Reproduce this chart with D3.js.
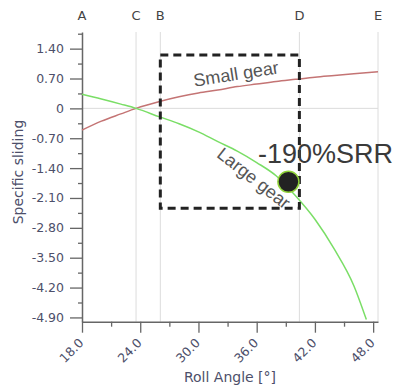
<!DOCTYPE html>
<html>
<head>
<meta charset="utf-8">
<script src="https://cdn.jsdelivr.net/npm/d3@7"></script>
<style>
  body { margin: 0; background: #fff; }
  svg { display: block; font-family: "DejaVu Sans", Verdana, sans-serif; }
</style>
</head>
<body>
<div id="chart"></div>
<script>
// roll angle [deg] vs specific sliding
const smallAngle = [18, 20, 22, 23.57, 26, 28, 30, 32, 34, 36, 38, 40, 42, 44, 46, 48.5];
const smallGear = [-0.51, -0.30, -0.13, 0, 0.16, 0.27, 0.36, 0.43, 0.51, 0.57, 0.63, 0.68, 0.73, 0.77, 0.81, 0.86];

const largeAngle = [18, 20, 22, 23.57, 26, 28, 30, 32, 34, 36, 38, 40, 42, 44, 46, 47.3];
const largeGear = [0.33, 0.22, 0.10, 0, -0.20, -0.36, -0.55, -0.78, -1.00, -1.27, -1.58, -2.05, -2.60, -3.30, -4.15, -4.95];

const xTicks = [18, 24, 30, 36, 42, 48];
const xMinor = [21, 27, 33, 39, 45];
const yTicks = [1.4, 0.7, 0, -0.7, -1.4, -2.1, -2.8, -3.5, -4.2, -4.9];
const yMinor = [1.75, 1.05, 0.35, -0.35, -1.05, -1.75, -2.45, -3.15, -3.85, -4.55];

// contact points along the line of action
const pointNames = ["A", "C", "B", "D", "E"];
const pointAngles = [18, 23.57, 26.07, 40.4, 48.5];

// highlighted region + marker
const boxAngles = [26.07, 40.4];
const boxValues = [1.25, -2.34];
const markerPoint = [39.27, -1.72];
const srrLabel = "-190%SRR";

const width = 399, height = 387;
const axisColor = "#666";
const labelColor = "#4d4f6a";

let svg = d3.select("#chart").append("svg")
    .attr("width", width)
    .attr("height", height);

let x = d3.scaleLinear().domain([18, 48.5]).range([82, 378]);
let y = d3.scaleLinear().domain([-5.0, 1.79]).range([321.7, 32]);

// plain hyphen instead of unicode minus
let fmt2 = d => d === 0 ? "0" : d3.format(".2f")(d).replace("−", "-");

// grid lines
svg.selectAll(".vgrid")
    .data(pointAngles.slice(1))
    .enter()
    .append("line")
    .attr("x1", d => x(d)).attr("x2", d => x(d))
    .attr("y1", y.range()[1]).attr("y2", y.range()[0])
    .attr("stroke", "#dcdcdc")
    .attr("stroke-width", 1);

svg.append("line")
    .attr("x1", x.range()[0]).attr("x2", x.range()[1])
    .attr("y1", y(0)).attr("y2", y(0))
    .attr("stroke", "#dcdcdc")
    .attr("stroke-width", 1);

// letters on top
svg.selectAll(".pt")
    .data(pointNames)
    .enter()
    .append("text")
    .attr("x", (d, i) => x(pointAngles[i]))
    .attr("y", 20)
    .attr("text-anchor", "middle")
    .attr("font-size", "13px")
    .attr("fill", "#444")
    .text(d => d);

// minor ticks
svg.append("g")
    .attr("transform", `translate(${x(18)},0)`)
    .call(d3.axisLeft(y).tickValues(yMinor).tickSize(4).tickFormat(""))
    .call(g => g.select(".domain").remove())
    .call(g => g.selectAll("line").attr("stroke", axisColor).attr("stroke-width", 1.3));

svg.append("g")
    .attr("transform", `translate(0,${y(-5)})`)
    .call(d3.axisBottom(x).tickValues(xMinor).tickSize(5).tickFormat(""))
    .call(g => g.select(".domain").remove())
    .call(g => g.selectAll("line").attr("stroke", axisColor).attr("stroke-width", 1.3));

// y axis
let yAxis = svg.append("g")
    .attr("transform", `translate(${x(18)},0)`)
    .call(d3.axisLeft(y).tickValues(yTicks).tickSize(12).tickPadding(6)
        .tickFormat(fmt2).tickSizeOuter(0));
yAxis.select(".domain").attr("stroke", axisColor).attr("stroke-width", 1.5);
yAxis.selectAll("line").attr("stroke", axisColor).attr("stroke-width", 1.3);
yAxis.selectAll("text")
    .attr("font-size", "12.5px")
    .attr("font-family", "DejaVu Sans, sans-serif")
    .attr("fill", labelColor);

// x axis
let xAxis = svg.append("g")
    .attr("transform", `translate(0,${y(-5)})`)
    .call(d3.axisBottom(x).tickValues(xTicks).tickSize(11).tickFormat(d3.format(".1f")).tickSizeOuter(0));
xAxis.select(".domain").attr("stroke", axisColor).attr("stroke-width", 1.5);
xAxis.selectAll("line").attr("stroke", axisColor).attr("stroke-width", 1.3);
xAxis.selectAll("text")
    .attr("font-size", "12.5px")
    .attr("font-family", "DejaVu Sans, sans-serif")
    .attr("fill", labelColor)
    .attr("text-anchor", "end")
    .attr("y", 0)
    .attr("dy", "0")
    .attr("transform", "translate(2,22) rotate(-45)");

// axis titles
svg.append("text")
    .attr("transform", `translate(23,172) rotate(-90)`)
    .attr("text-anchor", "middle")
    .attr("font-size", "14px")
    .attr("fill", labelColor)
    .text("Specific sliding");

svg.append("text")
    .attr("x", 230)
    .attr("y", 382)
    .attr("text-anchor", "middle")
    .attr("font-size", "14px")
    .attr("fill", labelColor)
    .text("Roll Angle [°]");

// curves
let line = d3.line()
    .x(d => x(d[0]))
    .y(d => y(d[1]))
    .curve(d3.curveMonotoneX);

svg.append("path")
    .attr("d", line(smallAngle.map((a, i) => [a, smallGear[i]])))
    .attr("fill", "none")
    .attr("stroke", "#c47474")
    .attr("stroke-width", 1.5);

svg.append("path")
    .attr("d", line(largeAngle.map((a, i) => [a, largeGear[i]])))
    .attr("fill", "none")
    .attr("stroke", "#7ade66")
    .attr("stroke-width", 1.5);

// curve labels
svg.append("text")
    .attr("transform", "translate(237,80) rotate(-9)")
    .attr("text-anchor", "middle")
    .attr("font-size", "18px")
    .attr("font-family", "Liberation Sans, Arial, sans-serif")
    .attr("fill", "#555")
    .text("Small gear");

svg.append("text")
    .attr("transform", "translate(250,183) rotate(38)")
    .attr("text-anchor", "middle")
    .attr("font-size", "18px")
    .attr("font-family", "Liberation Sans, Arial, sans-serif")
    .attr("fill", "#555")
    .text("Large gear");

// dashed box
svg.append("rect")
    .attr("x", x(boxAngles[0]))
    .attr("y", y(boxValues[0]))
    .attr("width", x(boxAngles[1]) - x(boxAngles[0]))
    .attr("height", y(boxValues[1]) - y(boxValues[0]))
    .attr("fill", "none")
    .attr("stroke", "#222")
    .attr("stroke-width", 3)
    .attr("stroke-dasharray", "8,5");

// marker
svg.append("circle")
    .attr("cx", x(markerPoint[0]))
    .attr("cy", y(markerPoint[1]))
    .attr("r", 10.5)
    .attr("fill", "#222")
    .attr("stroke", "#8fd23a")
    .attr("stroke-width", 1.5);

svg.append("text")
    .attr("x", 258)
    .attr("y", 163)
    .attr("font-size", "27px")
    .attr("font-family", "Liberation Sans, Arial, sans-serif")
    .attr("fill", "#3a3a3a")
    .text(srrLabel);
</script>
</body>
</html>
